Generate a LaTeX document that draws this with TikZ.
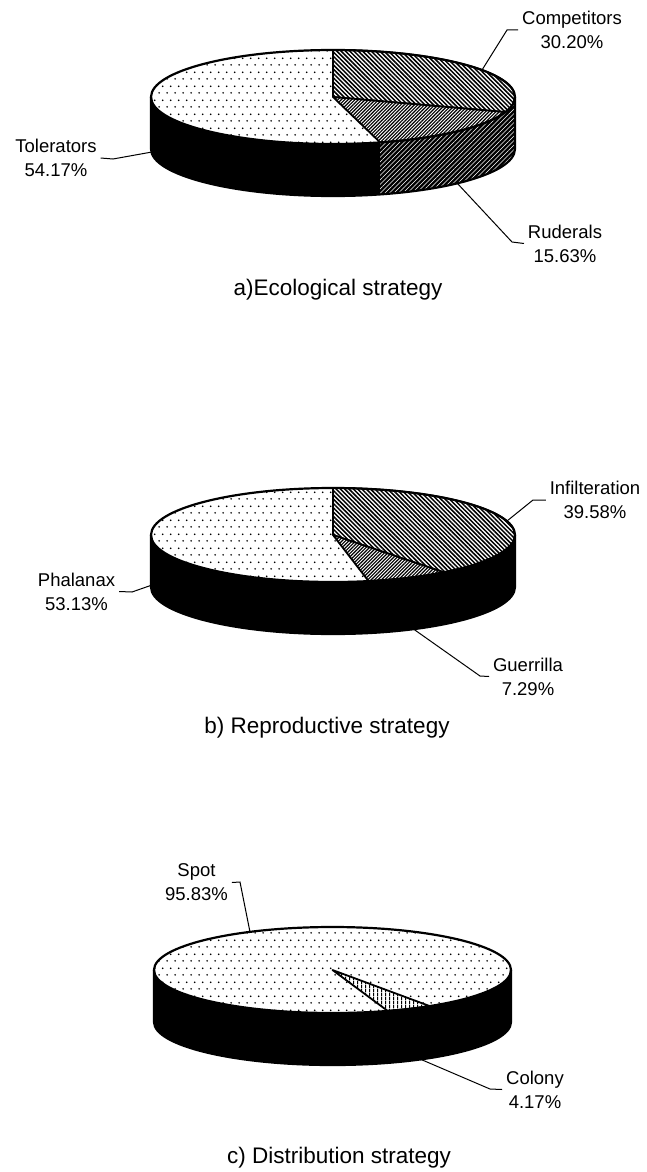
\documentclass[tikz,border=0pt]{standalone}
\usepackage{fontspec}
\setmainfont{Liberation Sans}
\usetikzlibrary{patterns}

\pgfdeclarepatternformonly{spotdots}{\pgfpointorigin}{\pgfqpoint{7.5pt}{14pt}}{\pgfqpoint{7.5pt}{14pt}}{%
  \pgfpathcircle{\pgfqpoint{1.2pt}{1.2pt}}{0.95pt}%
  \pgfpathcircle{\pgfqpoint{4.95pt}{8.2pt}}{0.95pt}%
  \pgfusepath{fill}}
\pgfdeclarepatternformonly{hatchnw}{\pgfqpoint{-1pt}{-1pt}}{\pgfqpoint{5.3pt}{5.3pt}}{\pgfqpoint{4.3pt}{4.3pt}}{%
  \pgfsetlinewidth{1.5pt}%
  \pgfpathmoveto{\pgfqpoint{0pt}{4.3pt}}\pgfpathlineto{\pgfqpoint{4.3pt}{0pt}}\pgfusepath{stroke}}
\pgfdeclarepatternformonly{hatchne}{\pgfqpoint{-1pt}{-1pt}}{\pgfqpoint{4.4pt}{4.4pt}}{\pgfqpoint{3.4pt}{3.4pt}}{%
  \pgfsetlinewidth{1.15pt}%
  \pgfpathmoveto{\pgfqpoint{0pt}{0pt}}\pgfpathlineto{\pgfqpoint{3.4pt}{3.4pt}}\pgfusepath{stroke}}
\pgfdeclarepatternformonly{sidehatch}{\pgfqpoint{-1pt}{-1pt}}{\pgfqpoint{5.5pt}{5.5pt}}{\pgfqpoint{4.5pt}{4.5pt}}{%
  \pgfsetlinewidth{0.55pt}%
  \pgfpathmoveto{\pgfqpoint{0pt}{0pt}}\pgfpathlineto{\pgfqpoint{4.5pt}{4.5pt}}\pgfusepath{stroke}}
\pgfdeclarepatternformonly{vhatch}{\pgfpointorigin}{\pgfqpoint{4pt}{4pt}}{\pgfqpoint{4pt}{4pt}}{%
  \pgfsetlinewidth{1.4pt}%
  \pgfpathmoveto{\pgfqpoint{2pt}{0pt}}\pgfpathlineto{\pgfqpoint{2pt}{4pt}}\pgfusepath{stroke}}

\begin{document}
\begin{tikzpicture}[x=1pt,y=1pt,
  lbl/.style={font=\fontsize{18.5}{24}\selectfont, align=center, inner sep=0pt, outer sep=4pt},
  capt/.style={font=\fontsize{22.5}{27}\selectfont, anchor=base, inner sep=0pt},
  leader/.style={line width=1pt},
  rim/.style={line width=2.2pt, line join=round},
  slice/.style={line width=1.8pt, line join=round},
  dotted top/.style={fill=white, postaction={pattern=spotdots}},
]
\useasboundingbox (0,0) rectangle (646,-1172);

% ================= a) Ecological strategy =================
\coordinate (ca) at (333,-97);
\fill[black] (ca) ++(0:182pt and 47pt) arc[start angle=0, end angle=-180, x radius=182pt, y radius=47pt]
  -- ++(0,-52) arc[start angle=-180, end angle=0, x radius=182pt, y radius=47pt] -- cycle;
\path[pattern=sidehatch, pattern color=white] (ca) ++(0:182pt and 47pt) arc[start angle=0, end angle=-75, x radius=182pt, y radius=47pt]
  -- ++(0,-52) arc[start angle=-75, end angle=0, x radius=182pt, y radius=47pt] -- cycle;
\path[dotted top] (ca) ellipse[x radius=182pt, y radius=47pt];
\draw[slice, preaction={fill=white}, pattern=hatchnw] (ca) -- ++(90:182pt and 47pt)
  arc[start angle=90, end angle=-18.72, x radius=182pt, y radius=47pt] -- cycle;
\draw[slice, preaction={fill=white}, pattern=hatchne] (ca) -- ++(-18.72:182pt and 47pt)
  arc[start angle=-18.72, end angle=-75, x radius=182pt, y radius=47pt] -- cycle;
\draw[rim] (ca) ellipse[x radius=182pt, y radius=47pt];
\draw[rim] (ca) ++(0:182pt and 47pt) -- ++(0,-52) arc[start angle=0, end angle=-180, x radius=182pt, y radius=47pt] -- ++(0,52);

\node[lbl] (lComp) at (572,-30) {Competitors\\30.20\%};
\node[lbl] (lTol) at (56,-158) {Tolerators\\54.17\%};
\node[lbl] (lRud) at (565,-243.5) {Ruderals\\15.63\%};
\coordinate (pComp) at (482,-70);  \coordinate (eComp) at (507,-30);
\coordinate (pTol) at (152,-152);  \coordinate (eTol) at (113,-159);
\coordinate (pRud) at (457,-183);  \coordinate (eRud) at (512,-242);
\draw[leader] (pComp) -- (eComp) -- (lComp.west);
\draw[leader] (pTol) -- (eTol) -- (lTol.east);
\draw[leader] (pRud) -- (eRud) -- (lRud.west);
\node[capt] (capA) at (338,-295) {a)Ecological strategy};

% ================= b) Reproductive strategy =================
\coordinate (cb) at (333,-535);
\fill[black] (cb) ++(0:182pt and 47pt) arc[start angle=0, end angle=-180, x radius=182pt, y radius=47pt]
  -- ++(0,-52) arc[start angle=-180, end angle=0, x radius=182pt, y radius=47pt] -- cycle;
\path[dotted top] (cb) ellipse[x radius=182pt, y radius=47pt];
\draw[slice, preaction={fill=white}, pattern=hatchnw] (cb) -- ++(90:182pt and 47pt)
  arc[start angle=90, end angle=-52.49, x radius=182pt, y radius=47pt] -- cycle;
\draw[slice, preaction={fill=white}, pattern=hatchne] (cb) -- ++(-52.49:182pt and 47pt)
  arc[start angle=-52.49, end angle=-78.73, x radius=182pt, y radius=47pt] -- cycle;
\draw[rim] (cb) ellipse[x radius=182pt, y radius=47pt];
\draw[rim] (cb) ++(0:182pt and 47pt) -- ++(0,-52) arc[start angle=0, end angle=-180, x radius=182pt, y radius=47pt] -- ++(0,52);

\node[lbl] (lInf) at (595,-500) {Infilteration\\39.58\%};
\node[lbl] (lPha) at (76.5,-591.5) {Phalanax\\53.13\%};
\node[lbl] (lGue) at (528,-676.5) {Guerrilla\\7.29\%};
\coordinate (pInf) at (507,-521);  \coordinate (eInf) at (533,-500);
\coordinate (pPha) at (152,-585);  \coordinate (ePha) at (132,-592);
\coordinate (pGue) at (412,-628);  \coordinate (eGue) at (480,-676);
\draw[leader] (pInf) -- (eInf) -- (lInf.west);
\draw[leader] (pPha) -- (ePha) -- (lPha.east);
\draw[leader] (pGue) -- (eGue) -- (lGue.west);
\node[capt] (capB) at (327,-733) {b) Reproductive strategy};

% ================= c) Distribution strategy =================
\coordinate (cc) at (332.5,-970);
\fill[black] (cc) ++(0:178.5pt and 43pt) arc[start angle=0, end angle=-180, x radius=178.5pt, y radius=43pt]
  -- ++(0,-52) arc[start angle=-180, end angle=0, x radius=178.5pt, y radius=43pt] -- cycle;
\path[dotted top] (cc) ellipse[x radius=178.5pt, y radius=43pt];
\draw[slice, preaction={fill=white}, pattern=vhatch] (cc) -- ++(-57:178.5pt and 43pt)
  arc[start angle=-57, end angle=-72, x radius=178.5pt, y radius=43pt] -- cycle;
\draw[rim] (cc) ellipse[x radius=178.5pt, y radius=43pt];
\draw[rim] (cc) ++(0:178.5pt and 43pt) -- ++(0,-52) arc[start angle=0, end angle=-180, x radius=178.5pt, y radius=43pt] -- ++(0,52);

\node[lbl] (lSpot) at (196.5,-882.5) {Spot\\95.83\%};
\node[lbl] (lCol) at (535,-1089.5) {Colony\\4.17\%};
\coordinate (pSpot) at (250,-932);  \coordinate (eSpot) at (240,-882);
\coordinate (pCol) at (420,-1059);  \coordinate (eCol) at (490,-1089);
\draw[leader] (pSpot) -- (eSpot) -- (lSpot.east);
\draw[leader] (pCol) -- (eCol) -- (lCol.west);
\node[capt] (capC) at (339,-1163) {c) Distribution strategy};
\end{tikzpicture}
\end{document}
